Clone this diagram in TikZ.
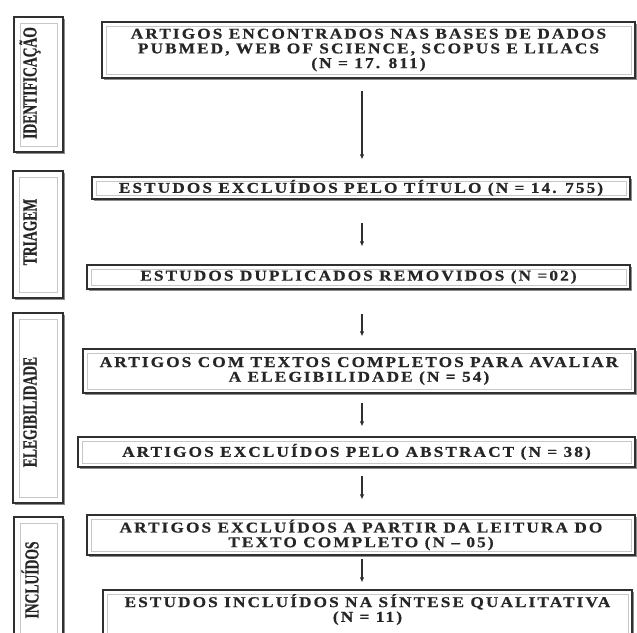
\documentclass[tikz,border=0pt]{standalone}
\usepackage{fontspec}
\setmainfont{Liberation Serif}
\newfontfamily\boxfont[FakeStretch=1.15,LetterSpace=14,FakeBold=0.6]{Liberation Serif}
\newfontfamily\labfont[FakeStretch=0.68,FakeBold=0.6]{Liberation Serif}
\usetikzlibrary{arrows.meta,shadows}
\definecolor{ink}{HTML}{262626}
\definecolor{edge}{HTML}{303030}
\tikzset{
  inner frame/.style={path picture={\draw[black!22,line width=0.7pt]
     ([shift={(#1,-#1)}]path picture bounding box.north west) rectangle
     ([shift={(-#1,#1)}]path picture bounding box.south east);}},
  mainbox/.style={draw=edge,line width=1.1pt,fill=white,align=center,
     inner sep=0pt,text=ink,
     font=\boxfont\bfseries\fontsize{15}{14.7}\selectfont,
     drop shadow={shadow xshift=1.6pt,shadow yshift=-1.6pt,fill=black!45,opacity=1},
     inner frame=4pt},
  labbox/.style={draw=edge,line width=1.1pt,fill=white,inner sep=0pt,
     drop shadow={shadow xshift=1.8pt,shadow yshift=-1.8pt,fill=black!45,opacity=1},
     inner frame=6pt},
  labtext/.style={rotate=90,text=ink,inner sep=0pt,
     font=\labfont\bfseries\fontsize{20}{22}\selectfont},
  arr/.style={draw=edge,line width=1.1pt,-{Latex[length=5pt,width=4.5pt]}}
}
\begin{document}
\begin{tikzpicture}[x=1pt,y=-1pt]
\useasboundingbox (0,0) rectangle (637,632);
\clip (0,0) rectangle (637,632);
% phase label boxes
\node[labbox,minimum width=49pt,minimum height=135pt] (L1) at (38.5,84.5) {};
\node[labbox,minimum width=50pt,minimum height=127pt] (L2) at (38,234.5) {};
\node[labbox,minimum width=50pt,minimum height=190pt] (L3) at (38,408) {};
\node[labbox,minimum width=49pt,minimum height=150pt] (L4) at (38.5,592) {};
\node[labtext] (T1) at (30,83) {IDENTIFICAÇÃO};
\node[labtext] (T2) at (30,232) {TRIAGEM};
\node[labtext] (T3) at (30,412) {ELEGIBILIDADE};
\node[labtext] (T4) at (30,580) {INCLUÍDOS};
% main boxes
\node[mainbox,minimum width=533pt,minimum height=56pt] (b1) at (368.5,50)
  {ARTIGOS ENCONTRADOS NAS BASES DE DADOS\\PUBMED, WEB OF SCIENCE, SCOPUS E LILACS\\(N = 17. 811)};
\node[mainbox,minimum width=538pt,minimum height=22pt] (b2) at (361,188)
  {ESTUDOS EXCLUÍDOS PELO TÍTULO (N = 14. 755)};
\node[mainbox,minimum width=543pt,minimum height=24pt] (b3) at (358.5,277)
  {ESTUDOS DUPLICADOS REMOVIDOS (N =02)};
\node[mainbox,minimum width=552pt,minimum height=44pt] (b4) at (359,371)
  {ARTIGOS COM TEXTOS COMPLETOS PARA AVALIAR\\A ELEGIBILIDADE (N = 54)};
\node[mainbox,minimum width=557pt,minimum height=30pt] (b5) at (356.5,452)
  {ARTIGOS EXCLUÍDOS PELO ABSTRACT (N = 38)};
\node[mainbox,minimum width=548pt,minimum height=40pt] (b6) at (361,535)
  {ARTIGOS EXCLUÍDOS A PARTIR DA LEITURA DO\\TEXTO COMPLETO (N – 05)};
\node[mainbox,minimum width=529pt,minimum height=60pt,text depth=24pt] (b7) at (367.5,620)
  {ESTUDOS INCLUÍDOS NA SÍNTESE QUALITATIVA\\(N = 11)};
% arrows
\coordinate (ax) at (362,0);
\draw[arr,shorten <=12pt,shorten >=17pt] (b1.south -| ax) -- (b2.north -| ax);
\draw[arr,shorten <=23pt,shorten >=18pt] (b2.south -| ax) -- (b3.north -| ax);
\draw[arr,shorten <=24pt,shorten >=12pt] (b3.south -| ax) -- (b4.north -| ax);
\draw[arr,shorten <=9pt,shorten >=10pt] (b4.south -| ax) -- (b5.north -| ax);
\draw[arr,shorten <=8pt,shorten >=15pt] (b5.south -| ax) -- (b6.north -| ax);
\draw[arr,shorten <=3pt,shorten >=7pt] (b6.south -| ax) -- (b7.north -| ax);
\end{tikzpicture}
\end{document}
